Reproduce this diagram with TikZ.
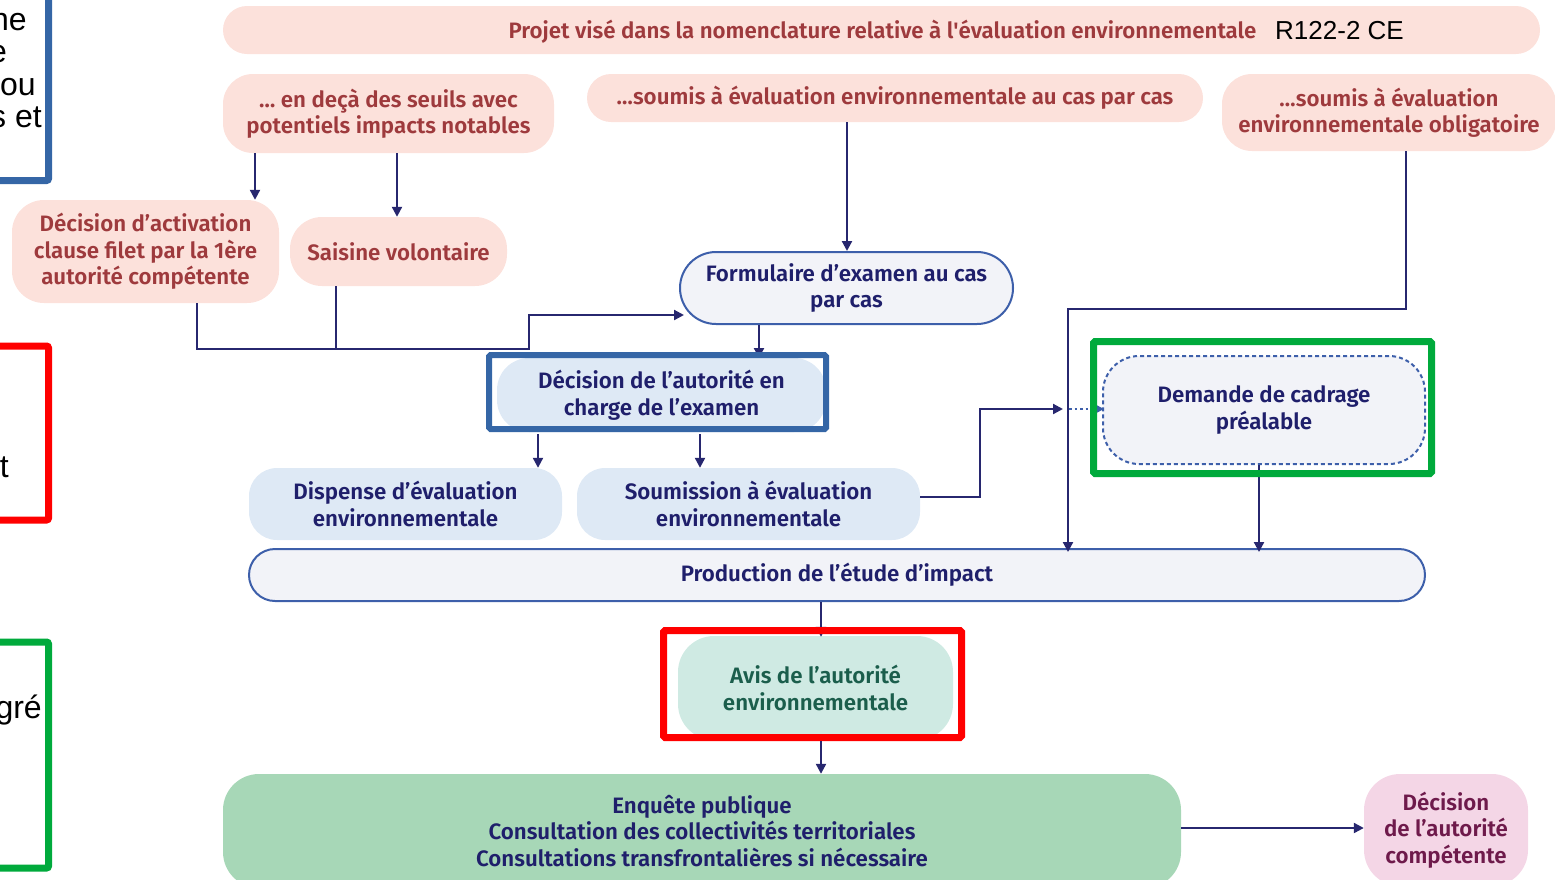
\documentclass[tikz,border=0pt]{standalone}
\usepackage{fontspec}
\setmainfont{Fira Sans}[UprightFont={* SemiBold}]
\newfontfamily\arialf{Liberation Sans}
\usetikzlibrary{arrows.meta,calc}
\definecolor{pinkfill}{HTML}{FCE1DB}
\definecolor{pinktext}{HTML}{9E3A3D}
\definecolor{navy}{HTML}{27276F}
\definecolor{navytext}{HTML}{1F1F6B}
\definecolor{bluebd}{HTML}{3D5FAA}
\definecolor{grayfill}{HTML}{F2F3F8}
\definecolor{lbfill}{HTML}{DEE9F5}
\definecolor{frameblue}{HTML}{3566A6}
\definecolor{framegreen}{HTML}{00AA3C}
\definecolor{framered}{HTML}{FF0000}
\definecolor{avisfill}{HTML}{CFEAE3}
\definecolor{avistext}{HTML}{1B5E4C}
\definecolor{enqfill}{HTML}{A7D7B7}
\definecolor{decfill}{HTML}{F4D6E6}
\definecolor{dectext}{HTML}{6E1A4B}
\begin{document}
\begin{tikzpicture}[x=1pt,y=-1pt,
  base/.style={inner sep=0pt, align=center, font=\fontsize{22.3}{26.5}\selectfont},
  pinkbox/.style={base, fill=pinkfill, text=pinktext},
  graybox/.style={base, fill=grayfill, draw=bluebd, line width=2pt, text=navytext},
  lbbox/.style={base, fill=lbfill, text=navytext},
  wire/.style={draw=navy, line width=2.2pt},
  arr/.style={wire, -{Triangle[length=10pt,width=10pt]}},
  dotarr/.style={draw=bluebd, line width=2.2pt, dash pattern=on 2.5pt off 3pt, -{Triangle[length=10pt,width=10pt]}},
  framebox/.style={line width=7pt, inner sep=0pt, rounded corners=1.5pt},
  clipped/.style={font=\arialf\fontsize{32}{32}\selectfont, anchor=base east, inner sep=0pt, text=black},
]
\useasboundingbox (0,0) rectangle (1555,879);
\clip (0,0) rectangle (1555,879);

% left clipped legend fragments
\node[clipped] (l1) at (27,30) {ne};
\node[clipped] (l2) at (7,62) {e};
\node[clipped] (l3) at (36,95) {ou};
\node[clipped] (l4) at (42,127) {s et};
\node[clipped] (l5) at (9,477) {t};
\node[clipped] (l6) at (42,718) {gré};
\draw[frameblue, line width=7pt, rounded corners=2pt] (-10,180.5) -- (48.5,180.5) -- (48.5,-10);
\draw[framered, line width=7pt, rounded corners=2pt] (-10,346) -- (48.5,346) -- (48.5,520) -- (-10,520);
\draw[framegreen, line width=7pt, rounded corners=2pt] (-10,642) -- (48.5,642) -- (48.5,868) -- (-10,868);

% nodes
\node[pinkbox, minimum width=1317pt, minimum height=48pt, rounded corners=24pt] (top) at (881.5,30) {};
\node[base, text=pinktext, anchor=base] (toptext) at (882.5,38) {Projet visé dans la nomenclature relative à l\textquotesingle évaluation environnementale};
\node[anchor=base west, inner sep=0pt, font=\arialf\fontsize{26}{26}\selectfont] (ref) at (1275,39) {R122-2 CE};

\node[pinkbox, minimum width=331pt, minimum height=79pt, rounded corners=30pt] (endeca) at (388.5,113.5) {… en deçà des seuils avec\\potentiels impacts notables};
\node[pinkbox, minimum width=616pt, minimum height=48pt, rounded corners=24pt] (caspar) at (895,98) {…soumis à évaluation environnementale au cas par cas};
\node[pinkbox, minimum width=334pt, minimum height=77pt, rounded corners=30pt] (oblig) at (1389,112.5) {…soumis à évaluation\\environnementale obligatoire};
\node[pinkbox, minimum width=267pt, minimum height=103pt, rounded corners=32pt] (activation) at (145.5,251.5) {Décision d’activation\\clause filet par la 1ère\\autorité compétente};
\node[pinkbox, minimum width=217pt, minimum height=69pt, rounded corners=32pt] (saisine) at (398.5,251.5) {Saisine volontaire};
\node[graybox, minimum width=333pt, minimum height=72pt, rounded corners=36pt] (formulaire) at (846.5,288) {Formulaire d’examen au cas\\par cas};
\node[lbbox, minimum width=329pt, minimum height=74pt, rounded corners=32pt] (decision) at (661.5,395) {Décision de l’autorité en\\charge de l’examen};
\node[lbbox, minimum width=313pt, minimum height=72pt, rounded corners=28pt] (dispense) at (405.5,504) {Dispense d’évaluation\\environnementale};
\node[lbbox, minimum width=343pt, minimum height=72pt, rounded corners=28pt] (soumission) at (748.5,504) {Soumission à évaluation\\environnementale};
\node[base, fill=grayfill, draw=bluebd, line width=2pt, dash pattern=on 4pt off 3pt, text=navytext, minimum width=322pt, minimum height=108pt, rounded corners=36pt] (cadrage) at (1264,410) {Demande de cadrage\\préalable};
\node[graybox, minimum width=1176pt, minimum height=52pt, rounded corners=26pt] (production) at (837,575) {Production de l’étude d’impact};
\node[base, fill=avisfill, text=avistext, minimum width=275pt, minimum height=104pt, rounded corners=36pt] (avis) at (815.5,688) {Avis de l’autorité\\environnementale};
\node[base, fill=enqfill, text=navytext, minimum width=958pt, minimum height=114pt, rounded corners=36pt] (enquete) at (702,831) {Enquête publique\\Consultation des collectivités territoriales\\Consultations transfrontalières si nécessaire};
\node[base, fill=decfill, text=dectext, minimum width=164pt, minimum height=112pt, rounded corners=36pt] (decisioncomp) at (1446,830) {Décision\\de l’autorité\\compétente};

% connectors
\draw[arr] (endeca.south -| 255,0) -- (activation.north -| 255,0);
\draw[arr] (endeca.south -| 397,0) -- (saisine.north -| 397,0);
\draw[arr] (caspar.south -| 847,0) -- (formulaire.north -| 847,0);
\draw[arr] (activation.south -| 197,0) |- (529,349) |- ($(formulaire.west)+(5,27)$);
\draw[wire] (saisine.south -| 336,0) -- (336,349);
\draw[arr] (formulaire.south -| 759,0) -- (759,358);
\draw[arr] (decision.south -| 538,0) ++(0,2) -- (dispense.north -| 538,0);
\draw[arr] (decision.south -| 700,0) ++(0,2) -- (soumission.north -| 700,0);
\draw[arr] ($(soumission.east)+(0,-7)$) -| (980,409) -- ($(cadrage.west -| 1068,0)+(-5,-1)$);
\draw[dotarr] ($(cadrage.west -| 1069,0)+(0,-1)$) -- ($(cadrage.west)+(2,-1)$);
\draw[arr] (oblig.south -| 1406,0) |- (1068,309) -- ($(production.north -| 1068,0)+(0,4)$);
\draw[arr] (cadrage.south -| 1259,0) -- ($(production.north -| 1259,0)+(0,4)$);
\draw[arr] (production.south -| 821,0) -- ($(avis.north -| 821,0)+(0,1)$);
\draw[arr] (enquete.east |- 0,828) -- (decisioncomp.west |- 0,828);

% highlight frames
\node[framebox, draw=frameblue, line width=6pt, minimum width=337pt, minimum height=74pt] (decframe) at (657.5,392) {};
\node[framebox, draw=framegreen, minimum width=338pt, minimum height=132pt] (greenframe) at (1262.5,407.5) {};
\node[framebox, draw=framered, minimum width=298pt, minimum height=107pt] (redframe) at (812.5,684) {};
\draw[arr] (redframe.south -| 821,0) -- (enquete.north -| 821,0);
\end{tikzpicture}
\end{document}
